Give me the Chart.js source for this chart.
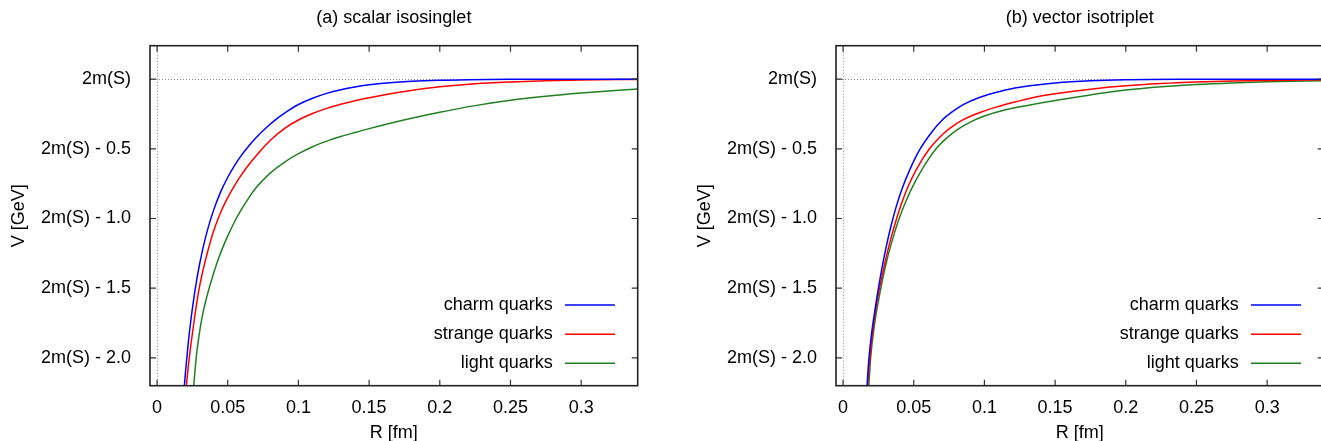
<!DOCTYPE html>
<html>
<head>
<meta charset="utf-8">
<script src="https://cdn.jsdelivr.net/npm/chart.js@4.4.0/dist/chart.umd.min.js"></script>
<style>
    html, body { margin: 0; padding: 0; background: #fff; overflow: hidden; width: 1321px; height: 441px; }
    .panel { position: absolute; top: 0; width: 660px; height: 460px; }
    #panelA { left: 0; }
    #panelB { left: 686px; }
</style>
</head>
<body>
<div class="panel" id="panelA"><canvas id="chartA" width="660" height="460"></canvas></div>
<div class="panel" id="panelB"><canvas id="chartB" width="660" height="460"></canvas></div>
<script>
// nhãn trục, tiêu đề
const panelTitles = ["(a) scalar isosinglet", "(b) vector isotriplet"];
const seriesNames = ["charm quarks", "strange quarks", "light quarks"];
const seriesColors = ["#0000ff", "#ff0000", "#237f23"];
const xTickValues = [0, 0.05, 0.1, 0.15, 0.2, 0.25, 0.3];
const xTickLabels = ["0", "0.05", "0.1", "0.15", "0.2", "0.25", "0.3"];
const yTickValues = [0, -0.5, -1.0, -1.5, -2.0];
const yTickLabels = ["2m(S)", "2m(S) - 0.5", "2m(S) - 1.0", "2m(S) - 1.5", "2m(S) - 2.0"];

// (a) scalar isosinglet: R [fm], V - 2m(S) [GeV]
const rCharmA = [0.019, 0.02, 0.022, 0.024, 0.026, 0.028, 0.030, 0.033, 0.036, 0.04, 0.045, 0.05, 0.055, 0.06, 0.064, 0.07, 0.077, 0.085, 0.092, 0.1, 0.11, 0.12, 0.13, 0.14, 0.15, 0.16, 0.18, 0.2, 0.22, 0.25, 0.3, 0.34];
const vCharmA = [-2.24, -2.115, -1.9, -1.723, -1.573, -1.444, -1.332, -1.189, -1.071, -0.94, -0.809, -0.704, -0.617, -0.542, -0.49, -0.421, -0.351, -0.282, -0.231, -0.182, -0.137, -0.102, -0.076, -0.056, -0.041, -0.03, -0.016, -0.008, -0.004, -0.001, 0, 0];
const rStrangeA = [0.0205, 0.022, 0.024, 0.026, 0.028, 0.030, 0.033, 0.036, 0.04, 0.044, 0.048, 0.053, 0.058, 0.065, 0.073, 0.08, 0.09, 0.1, 0.11, 0.12, 0.13, 0.14, 0.15, 0.175, 0.2, 0.225, 0.25, 0.275, 0.3, 0.34];
const vStrangeA = [-2.22, -2.07, -1.9, -1.75, -1.61, -1.49, -1.35, -1.23, -1.09, -0.98, -0.89, -0.795, -0.712, -0.613, -0.515, -0.44, -0.355, -0.293, -0.247, -0.21, -0.18, -0.155, -0.133, -0.088, -0.055, -0.033, -0.02, -0.011, -0.006, -0.002];
const rLightA = [0.025, 0.0265, 0.028, 0.030, 0.032, 0.035, 0.038, 0.042, 0.046, 0.05, 0.055, 0.06, 0.065, 0.07, 0.075, 0.08, 0.09, 0.1, 0.11, 0.12, 0.13, 0.14, 0.15, 0.165, 0.18, 0.2, 0.225, 0.25, 0.275, 0.3, 0.34];
const vLightA = [-2.32, -2.13, -1.97, -1.82, -1.7, -1.57, -1.46, -1.33, -1.22, -1.125, -1.02, -0.93, -0.85, -0.78, -0.724, -0.674, -0.597, -0.535, -0.485, -0.445, -0.412, -0.383, -0.355, -0.316, -0.28, -0.237, -0.19, -0.152, -0.123, -0.1, -0.07];

// (b) vector isotriplet
const rCharmB = [0.0165, 0.018, 0.02, 0.0225, 0.025, 0.028, 0.031, 0.034, 0.0376, 0.042, 0.047, 0.054, 0.0635, 0.07, 0.0776, 0.085, 0.0964, 0.11, 0.12, 0.132, 0.15, 0.175, 0.2, 0.25, 0.34];
const vCharmB = [-2.28, -2.04, -1.84, -1.66, -1.5, -1.33, -1.18, -1.05, -0.915, -0.78, -0.655, -0.51, -0.37, -0.295, -0.232, -0.183, -0.132, -0.09, -0.067, -0.048, -0.027, -0.011, -0.004, -0.001, 0];
const rStrangeB = [0.017, 0.019, 0.0215, 0.024, 0.027, 0.030, 0.033, 0.037, 0.0411, 0.046, 0.052, 0.0611, 0.068, 0.0752, 0.085, 0.0988, 0.11, 0.12, 0.134, 0.15, 0.175, 0.2, 0.225, 0.25, 0.275, 0.3, 0.34];
const vStrangeB = [-2.25, -2.0, -1.77, -1.6, -1.44, -1.3, -1.175, -1.03, -0.9, -0.77, -0.645, -0.5, -0.42, -0.355, -0.29, -0.232, -0.196, -0.168, -0.133, -0.105, -0.072, -0.048, -0.032, -0.021, -0.014, -0.009, -0.004];
const rLightB = [0.018, 0.0195, 0.022, 0.0245, 0.0275, 0.031, 0.035, 0.039, 0.0435, 0.049, 0.056, 0.0658, 0.073, 0.0811, 0.09, 0.1, 0.115, 0.1322, 0.15, 0.175, 0.2, 0.225, 0.25, 0.275, 0.3, 0.34];
const vLightB = [-2.24, -2.0, -1.78, -1.62, -1.46, -1.3, -1.15, -1.02, -0.9, -0.775, -0.645, -0.5, -0.425, -0.36, -0.308, -0.265, -0.22, -0.185, -0.153, -0.113, -0.078, -0.054, -0.038, -0.027, -0.019, -0.011];

const fontFam = "'Liberation Sans', Arial, sans-serif";

function ghepDiem(rs, vs) {
    return rs.map((r, i) => ({ x: r, y: vs[i] }));
}

function taoDataset(ten, mau, rs, vs) {
    return {
        label: ten,
        data: ghepDiem(rs, vs),
        borderColor: mau,
        backgroundColor: mau,
        borderWidth: 1.5,
        pointRadius: 0,
        cubicInterpolationMode: "monotone",
        fill: false,
    };
}

// khung, vạch chia hướng vào trong, đường 0 chấm, chú thích kiểu gnuplot
const gnuplotStyle = {
    id: "gnuplotStyle",
    beforeDatasetsDraw(chart) {
        const { ctx, chartArea: a, scales } = chart;
        const x0 = scales.x.getPixelForValue(0);
        const y0 = scales.y.getPixelForValue(0);
        ctx.save();
        ctx.strokeStyle = "#888";
        ctx.lineWidth = 1;
        ctx.setLineDash([1, 2]);
        ctx.beginPath();
        ctx.moveTo(a.left, Math.round(y0) + 0.5);
        ctx.lineTo(a.right, Math.round(y0) + 0.5);
        ctx.moveTo(Math.round(x0) + 0.5, a.top);
        ctx.lineTo(Math.round(x0) + 0.5, a.bottom);
        ctx.stroke();
        ctx.restore();
    },
    afterDatasetsDraw(chart) {
        const { ctx, chartArea: a, scales } = chart;
        ctx.save();
        // vạch chia
        ctx.strokeStyle = "#333";
        ctx.lineWidth = 1.2;
        ctx.beginPath();
        scales.x.ticks.forEach((t) => {
            const px = scales.x.getPixelForValue(t.value);
            ctx.moveTo(px, a.bottom);
            ctx.lineTo(px, a.bottom - 6);
            ctx.moveTo(px, a.top);
            ctx.lineTo(px, a.top + 6);
        });
        scales.y.ticks.forEach((t) => {
            const py = scales.y.getPixelForValue(t.value);
            ctx.moveTo(a.left, py);
            ctx.lineTo(a.left + 6, py);
            ctx.moveTo(a.right, py);
            ctx.lineTo(a.right - 6, py);
        });
        ctx.stroke();
        // khung
        ctx.strokeStyle = "#222";
        ctx.lineWidth = 1.6;
        ctx.strokeRect(a.left, a.top, a.right - a.left, a.bottom - a.top);
        // chú thích
        ctx.font = "18px " + fontFam;
        ctx.textAlign = "right";
        ctx.textBaseline = "middle";
        const rowY = [a.bottom - 80.7, a.bottom - 51.4, a.bottom - 22.4];
        chart.data.datasets.forEach((ds, i) => {
            ctx.fillStyle = "#000";
            ctx.fillText(ds.label, a.right - 85, rowY[i]);
            ctx.strokeStyle = ds.borderColor;
            ctx.lineWidth = 1.5;
            ctx.beginPath();
            ctx.moveTo(a.right - 72.7, rowY[i]);
            ctx.lineTo(a.right - 22.7, rowY[i]);
            ctx.stroke();
        });
        ctx.restore();
    },
};

function veBieuDo(canvasId, tieuDe, dsList) {
    const ctx = document.getElementById(canvasId).getContext("2d");
    return new Chart(ctx, {
        type: "line",
        data: { datasets: dsList },
        options: {
            responsive: false,
            animation: false,
            layout: { padding: { left: 0, right: 22.3, top: 0, bottom: 0 } },
            plugins: {
                legend: { display: false },
                tooltip: { enabled: false },
                title: {
                    display: true,
                    text: tieuDe,
                    fullSize: false,
                    color: "#000",
                    font: { family: fontFam, size: 18, weight: "normal" },
                    padding: { top: 7.2, bottom: 16.9 },
                },
            },
            scales: {
                x: {
                    type: "linear",
                    min: -0.005,
                    max: 0.34,
                    afterBuildTicks: (s) => { s.ticks = xTickValues.map((v) => ({ value: v })); },
                    afterFit: (s) => { s.height = 74.3; },
                    grid: { display: false },
                    border: { display: false },
                    ticks: {
                        padding: 4,
                        color: "#000",
                        font: { family: fontFam, size: 18 },
                        maxRotation: 0,
                        callback: (v) => xTickLabels[xTickValues.indexOf(v)],
                    },
                    title: {
                        display: true,
                        text: "R [fm]",
                        color: "#000",
                        font: { family: fontFam, size: 18 },
                        padding: { top: 0, bottom: 16.2 },
                    },
                },
                y: {
                    type: "linear",
                    min: -2.2,
                    max: 0.24,
                    afterBuildTicks: (s) => { s.ticks = yTickValues.map((v) => ({ value: v })); },
                    afterFit: (s) => { s.width = 150; },
                    grid: { display: false },
                    border: { display: false },
                    ticks: {
                        padding: 11,
                        color: "#000",
                        font: { family: fontFam, size: 18 },
                        callback: (v) => yTickLabels[yTickValues.indexOf(v)],
                    },
                    title: {
                        display: true,
                        text: "V [GeV]",
                        color: "#000",
                        font: { family: fontFam, size: 18 },
                        padding: { top: 8, bottom: 0 },
                    },
                },
            },
        },
        plugins: [gnuplotStyle],
    });
}

veBieuDo("chartA", panelTitles[0], [
    taoDataset(seriesNames[0], seriesColors[0], rCharmA, vCharmA),
    taoDataset(seriesNames[1], seriesColors[1], rStrangeA, vStrangeA),
    taoDataset(seriesNames[2], seriesColors[2], rLightA, vLightA),
]);

veBieuDo("chartB", panelTitles[1], [
    taoDataset(seriesNames[0], seriesColors[0], rCharmB, vCharmB),
    taoDataset(seriesNames[1], seriesColors[1], rStrangeB, vStrangeB),
    taoDataset(seriesNames[2], seriesColors[2], rLightB, vLightB),
]);
</script>
</body>
</html>
